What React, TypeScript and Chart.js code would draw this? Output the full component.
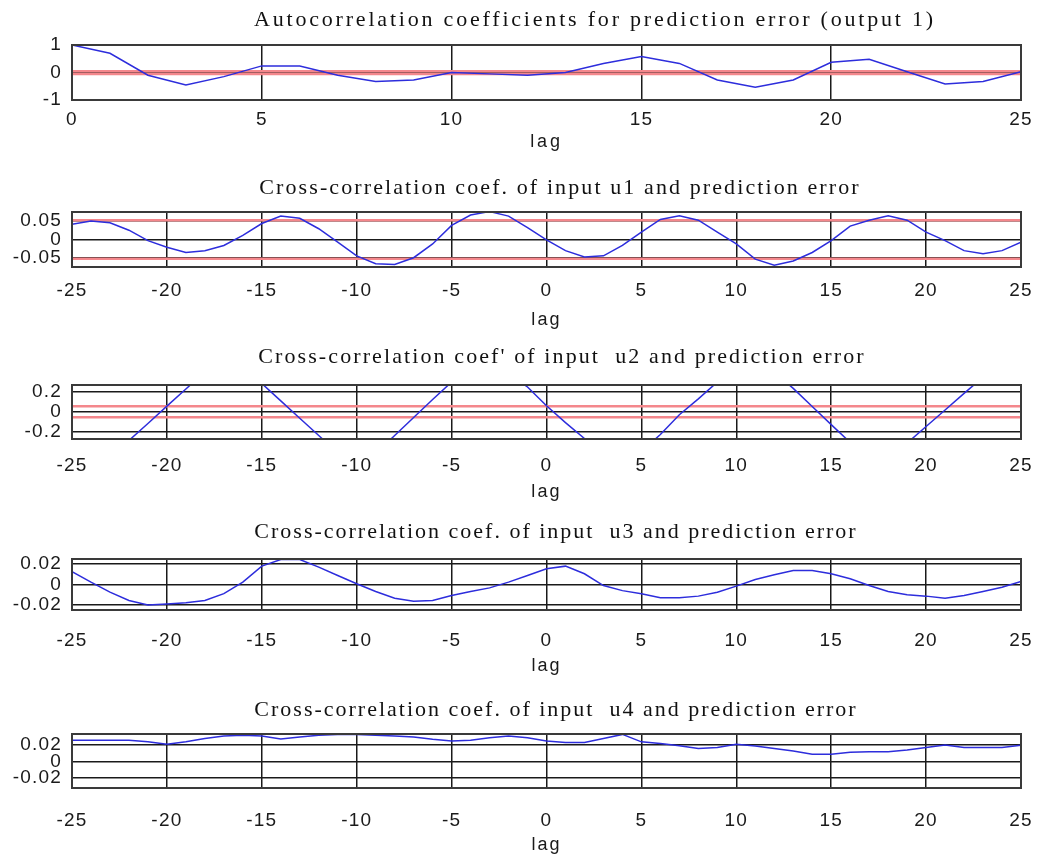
import React, { useEffect, useRef } from "react";
import { Chart, registerables } from "chart.js";

Chart.register(...registerables);

// ---------- data ----------
const lagsAuto = [0, 1, 2, 3, 4, 5, 6, 7, 8, 9, 10, 11, 12, 13, 14, 15, 16, 17, 18, 19, 20, 21, 22, 23, 24, 25];
const lagsCross = [
  -25, -24, -23, -22, -21, -20, -19, -18, -17, -16, -15, -14, -13, -12, -11, -10, -9, -8, -7, -6, -5, -4, -3, -2, -1,
  0, 1, 2, 3, 4, 5, 6, 7, 8, 9, 10, 11, 12, 13, 14, 15, 16, 17, 18, 19, 20, 21, 22, 23, 24, 25,
];

const autoCorrError = [
  1.0, 0.7, -0.1, -0.45, -0.15, 0.24, 0.24, -0.1, -0.33, -0.27, 0.0, -0.05, -0.1, 0.0, 0.33, 0.58, 0.33, -0.27, -0.54,
  -0.27, 0.37, 0.48, 0.03, -0.42, -0.33, 0.03,
];

const crossU1 = [
  0.041, 0.05, 0.045, 0.025, -0.003, -0.021, -0.035, -0.03, -0.016, 0.011, 0.043, 0.063, 0.057, 0.029, -0.007, -0.044,
  -0.065, -0.067, -0.049, -0.012, 0.038, 0.066, 0.075, 0.063, 0.032, -0.001, -0.03, -0.047, -0.044, -0.016, 0.02, 0.054,
  0.064, 0.052, 0.02, -0.012, -0.053, -0.069, -0.058, -0.035, -0.003, 0.036, 0.052, 0.064, 0.052, 0.02, -0.003, -0.03,
  -0.038, -0.03, -0.007,
];

const crossU2 = [
  -0.4, -0.46, -0.44, -0.29, -0.118, 0.057, 0.23, 0.4, 0.45, 0.4, 0.285, 0.11, -0.065, -0.24, -0.415, -0.45, -0.42,
  -0.24, -0.058, 0.123, 0.3, 0.42, 0.45, 0.38, 0.25, 0.06, -0.11, -0.27, -0.44, -0.48, -0.4, -0.23, -0.03, 0.13, 0.3,
  0.42, 0.46, 0.4, 0.236, 0.053, -0.13, -0.31, -0.45, -0.46, -0.316, -0.149, 0.018, 0.185, 0.35, 0.45, 0.42,
];

const crossU3 = [
  0.0127, 0.0023, -0.0075, -0.0157, -0.02, -0.019, -0.018, -0.0157, -0.009, 0.0023, 0.018, 0.0245, 0.0245, 0.017,
  0.0088, 0.0007, -0.0069, -0.0134, -0.0163, -0.0157, -0.0108, -0.0069, -0.0033, 0.0023, 0.0088, 0.0154, 0.018, 0.0105,
  -0.001, -0.006, -0.009, -0.013, -0.013, -0.0114, -0.0075, -0.0016, 0.0049, 0.0095, 0.0137, 0.0137, 0.0105, 0.0056,
  -0.001, -0.0069, -0.01, -0.0114, -0.0134, -0.0108, -0.0069, -0.0026, 0.0029,
];

const crossU4 = [
  0.026, 0.026, 0.026, 0.026, 0.024, 0.021, 0.024, 0.028, 0.031, 0.032, 0.031, 0.0273, 0.03, 0.032, 0.0328, 0.033,
  0.032, 0.031, 0.03, 0.027, 0.025, 0.026, 0.029, 0.031, 0.029, 0.025, 0.0233, 0.0233, 0.028, 0.033, 0.024, 0.022,
  0.0193, 0.016, 0.017, 0.021, 0.019, 0.016, 0.013, 0.009, 0.009, 0.0113, 0.012, 0.012, 0.014, 0.017, 0.02, 0.017,
  0.017, 0.017, 0.02,
];

// confidence bounds (red lines)
const confAuto = [0.05];
const confU1 = [0.052];
const confU2 = [0.055];

// ticks
const xTicksAuto = [0, 5, 10, 15, 20, 25];
const xTicksCross = [-25, -20, -15, -10, -5, 0, 5, 10, 15, 20, 25];
const yTicksAuto = [-1, 0, 1];
const yLabelsAuto = ["-1", "0", "1"];
const yTicksU1 = [-0.05, 0, 0.05];
const yLabelsU1 = ["-0.05", "0", "0.05"];
const yTicksU2 = [-0.2, 0, 0.2];
const yLabelsU2 = ["-0.2", "0", "0.2"];
const yTicksU3 = [-0.02, 0, 0.02];
const yLabelsU3 = ["-0.02", "0", "0.02"];
const yTicksU4 = [-0.02, 0, 0.02];
const yLabelsU4 = ["-0.02", "0", "0.02"];

const titles = [
  "Autocorrelation coefficients for prediction error (output 1)",
  "Cross-correlation coef. of input u1 and prediction error",
  "Cross-correlation coef' of input  u2 and prediction error",
  "Cross-correlation coef. of input  u3 and prediction error",
  "Cross-correlation coef. of input  u4 and prediction error",
];

// ---------- panel setup ----------
type PanelCfg = {
  title: string;
  lags: number[];
  values: number[];
  conf: number[];
  xTicks: number[];
  yTicks: number[];
  yLabels: string[];
  xMin: number;
  xMax: number;
  yMin: number;
  yMax: number;
  layout: {
    top: number;
    height: number;
    titlePadB: number;
    titleCx: number;
    xAxisH: number;
    tickLen: number;
    titleSpacing: number;
  };
};

const panels: PanelCfg[] = [
  {
    title: titles[0], lags: lagsAuto, values: autoCorrError, conf: confAuto, xTicks: xTicksAuto,
    yTicks: yTicksAuto, yLabels: yLabelsAuto, xMin: 0, xMax: 25, yMin: -1, yMax: 1,
    layout: { top: 7, height: 146, titlePadB: 11.6, titleCx: 595, xAxisH: 53, tickLen: 8.6, titleSpacing: 2.8 },
  },
  {
    title: titles[1], lags: lagsCross, values: crossU1, conf: confU1, xTicks: xTicksCross,
    yTicks: yTicksU1, yLabels: yLabelsU1, xMin: -25, xMax: 25, yMin: -0.074, yMax: 0.074,
    layout: { top: 175, height: 156, titlePadB: 10.6, titleCx: 560, xAxisH: 64, tickLen: 12, titleSpacing: 2.1 },
  },
  {
    title: titles[2], lags: lagsCross, values: crossU2, conf: confU2, xTicks: xTicksCross,
    yTicks: yTicksU2, yLabels: yLabelsU2, xMin: -25, xMax: 25, yMin: -0.275, yMax: 0.27,
    layout: { top: 344, height: 159, titlePadB: 14.6, titleCx: 562, xAxisH: 64, tickLen: 15, titleSpacing: 2.1 },
  },
  {
    title: titles[3], lags: lagsCross, values: crossU3, conf: [], xTicks: xTicksCross,
    yTicks: yTicksU3, yLabels: yLabelsU3, xMin: -25, xMax: 25, yMin: -0.025, yMax: 0.025,
    layout: { top: 519, height: 158, titlePadB: 13.6, titleCx: 556, xAxisH: 67, tickLen: 19, titleSpacing: 2.0 },
  },
  {
    title: titles[4], lags: lagsCross, values: crossU4, conf: [], xTicks: xTicksCross,
    yTicks: yTicksU4, yLabels: yLabelsU4, xMin: -25, xMax: 25, yMin: -0.032, yMax: 0.0335,
    layout: { top: 697, height: 159, titlePadB: 10.6, titleCx: 556, xAxisH: 68, tickLen: 21, titleSpacing: 2.0 },
  },
];

const TICK_SPACING = 1.2;

// letter spacing: title / axis title use the wider spacing, tick labels (drawn after datasets) a smaller one
const spacingPlugin = {
  id: "letterSpacing",
  beforeDraw(chart: any, _args: any, opts: any) {
    (chart.ctx as any).letterSpacing = `${opts.title || 0}px`;
  },
  beforeDatasetsDraw(chart: any, _args: any, opts: any) {
    (chart.ctx as any).letterSpacing = `${opts.ticks || 0}px`;
  },
};

// move the title box horizontally so the title is centred where the reference has it
const titleShiftPlugin = {
  id: "titleShift",
  afterLayout(chart: any, _args: any, opts: any) {
    const tb = chart.titleBlock;
    if (!tb || opts.cx == null) return;
    const w = tb.right - tb.left;
    tb.left = opts.cx - w / 2;
    tb.right = opts.cx + w / 2;
  },
};

const framePlugin = {
  id: "frame",
  afterDraw(chart: any) {
    const { ctx, chartArea } = chart;
    ctx.save();
    ctx.strokeStyle = "#3a3a3a";
    ctx.lineWidth = 2;
    ctx.strokeRect(chartArea.left, chartArea.top, chartArea.right - chartArea.left, chartArea.bottom - chartArea.top);
    ctx.restore();
  },
};

function Panel({ cfg }: { cfg: PanelCfg }) {
  const ref = useRef<HTMLCanvasElement | null>(null);
  useEffect(() => {
    if (!ref.current) return;
    const datasets: any[] = [
      {
        data: cfg.lags.map((x, i) => ({ x, y: cfg.values[i] })),
        borderColor: "rgb(45,45,220)",
        borderWidth: 1.5,
        pointRadius: 0,
        tension: 0,
        fill: false,
      },
    ];
    cfg.conf.forEach((c) => {
      [c, -c].forEach((v) => {
        datasets.push({
          data: [
            { x: cfg.xMin, y: v },
            { x: cfg.xMax, y: v },
          ],
          borderColor: "rgb(244,135,140)",
          borderWidth: 2.5,
          pointRadius: 0,
          fill: false,
        });
      });
    });
    const tickFont = { family: "'Liberation Sans', Arial, sans-serif", size: 19 };
    const lagFont = { family: "'Liberation Sans', Arial, sans-serif", size: 18 };
    const chart = new Chart(ref.current, {
      type: "line",
      data: { datasets },
      plugins: [spacingPlugin, titleShiftPlugin, framePlugin],
      options: {
        animation: false,
        responsive: true,
        maintainAspectRatio: false,
        layout: { padding: { left: 0, right: 19, top: 0, bottom: 0 } },
        plugins: {
          legend: { display: false },
          tooltip: { enabled: false },
          letterSpacing: { title: cfg.layout.titleSpacing, ticks: TICK_SPACING },
          titleShift: { cx: cfg.layout.titleCx },
          title: {
            display: true,
            text: cfg.title,
            color: "#111",
            font: { family: "'Liberation Serif', 'Times New Roman', serif", size: 22, weight: "normal" },
            padding: { top: 0, bottom: cfg.layout.titlePadB },
          },
        } as any,
        scales: {
          x: {
            type: "linear",
            position: "bottom",
            min: cfg.xMin,
            max: cfg.xMax,
            afterBuildTicks: (axis: any) => {
              axis.ticks = cfg.xTicks.map((v) => ({ value: v }));
            },
            afterFit: (axis: any) => {
              axis.height = cfg.layout.xAxisH;
            },
            ticks: {
              autoSkip: false,
              maxRotation: 0,
              padding: 0,
              z: 1,
              color: "#1a1a1a",
              font: tickFont,
              callback: (v: any) => String(v),
            },
            grid: {
              color: "#1a1a1a",
              lineWidth: 1.5,
              drawTicks: true,
              tickLength: cfg.layout.tickLen,
              tickColor: "rgba(0,0,0,0)",
            },
            border: { display: true, color: "#3a3a3a", width: 2 },
            title: {
              display: true,
              text: "lag",
              color: "#1a1a1a",
              font: lagFont,
              padding: { top: 0, bottom: 0 },
            },
          },
          y: {
            type: "linear",
            min: cfg.yMin,
            max: cfg.yMax,
            afterBuildTicks: (axis: any) => {
              axis.ticks = cfg.yTicks.map((v) => ({ value: v }));
            },
            afterFit: (axis: any) => {
              axis.width = 72;
            },
            ticks: {
              autoSkip: false,
              padding: 10,
              z: 1,
              color: "#1a1a1a",
              font: tickFont,
              callback: (_v: any, i: number) => cfg.yLabels[i],
            },
            grid: { color: "#1a1a1a", lineWidth: 1.5, drawTicks: false },
            border: { display: true, color: "#3a3a3a", width: 2 },
          },
        },
      } as any,
    });
    return () => chart.destroy();
  }, [cfg]);

  return (
    <div
      style={{
        position: "absolute",
        left: 0,
        top: cfg.layout.top,
        width: 1040,
        height: cfg.layout.height,
      }}
    >
      <canvas ref={ref} />
    </div>
  );
}

export default function App() {
  return (
    <div
      style={{
        position: "absolute",
        left: 0,
        top: 0,
        width: 1040,
        height: 861,
        overflow: "hidden",
        background: "#fff",
      }}
    >
      {panels.map((p, i) => (
        <Panel key={i} cfg={p} />
      ))}
    </div>
  );
}
